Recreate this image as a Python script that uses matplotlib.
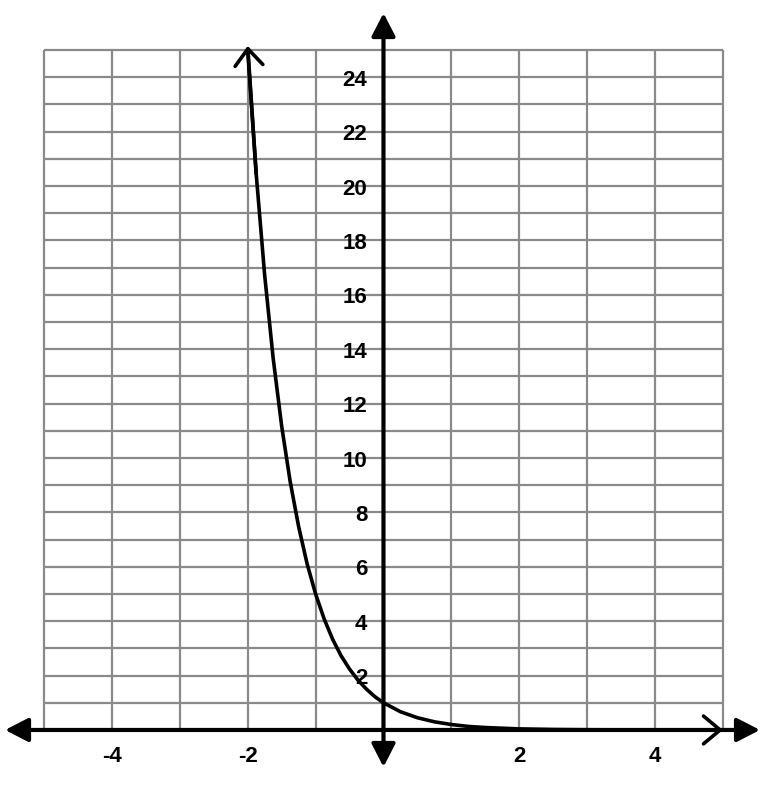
import matplotlib
matplotlib.use("Agg")
import matplotlib.pyplot as plt

# Data (curve y = (1/5)^x)
curve_x = [-2, -1.875, -1.75, -1.625, -1.5, -1.375, -1.25, -1.125, -1,
           -0.875, -0.75, -0.625, -0.5, -0.375, -0.25, -0.125, 0,
           0.25, 0.5, 0.75, 1, 1.25, 1.5, 2, 2.5, 3, 4, 5]
curve_y = [25, 20.45, 16.72, 13.67, 11.18, 9.14, 7.48, 6.11, 5,
           4.09, 3.34, 2.73, 2.24, 1.83, 1.50, 1.22, 1,
           0.67, 0.45, 0.30, 0.20, 0.13, 0.09, 0.04, 0.018, 0.008, 0.0016, 0.0003]

x_ticks = [-4, -2, 2, 4]
y_ticks = [2, 4, 6, 8, 10, 12, 14, 16, 18, 20, 22, 24]
grid_x = list(range(-5, 6))
grid_y = list(range(0, 26))

plt.rcParams['font.family'] = ['Liberation Sans', 'DejaVu Sans']

fig = plt.figure(figsize=(7.68, 7.86), dpi=100)
ax = fig.add_axes([0, 0, 1, 1])
ax.set_xlim(-5.648, 5.663)
ax.set_ylim(-2.06, 26.84)
ax.axis('off')

grid_col = '#8a8a8a'
ax.vlines(grid_x, 0, 25, colors=grid_col, lw=1.6, zorder=1)
ax.hlines(grid_y, -5, 5, colors=grid_col, lw=1.6, zorder=1)

# axes with filled arrowheads
head = '<|-|>,head_length=0.7,head_width=0.36'
ax.annotate('', xy=(5.545, 0), xytext=(-5.574, 0),
            arrowprops=dict(arrowstyle=head, lw=3, color='black',
                            mutation_scale=20, shrinkA=0, shrinkB=0),
            zorder=3)
ax.annotate('', xy=(0, 26.36), xytext=(0, -1.36),
            arrowprops=dict(arrowstyle=head, lw=3, color='black',
                            mutation_scale=20, shrinkA=0, shrinkB=0),
            zorder=3)

# curve
ax.plot(curve_x, curve_y, color='black', lw=2.6, zorder=4, solid_capstyle='round')
ax.annotate('', xy=(curve_x[0], curve_y[0] + 0.15), xytext=(curve_x[1], curve_y[1]),
            arrowprops=dict(arrowstyle='->,head_length=0.6,head_width=0.5',
                            lw=2.6, color='black', mutation_scale=20, shrinkA=0, shrinkB=0),
            zorder=4)
ax.annotate('', xy=(curve_x[-1], curve_y[-1]), xytext=(curve_x[-2], curve_y[-2]),
            arrowprops=dict(arrowstyle='->,head_length=0.6,head_width=0.5',
                            lw=2.6, color='black', mutation_scale=20, shrinkA=0, shrinkB=0),
            zorder=4)

# tick labels
for t in y_ticks:
    ax.annotate(str(t), xy=(0, t), xytext=(-16, -3), textcoords='offset pixels',
                ha='right', va='center', fontsize=16, fontweight='bold', zorder=5)
for t in x_ticks:
    ax.annotate(str(t), xy=(t, 0), xytext=(0, -27), textcoords='offset pixels',
                ha='center', va='center', fontsize=16, fontweight='bold', zorder=5)

fig.savefig('out.png', dpi=100)
